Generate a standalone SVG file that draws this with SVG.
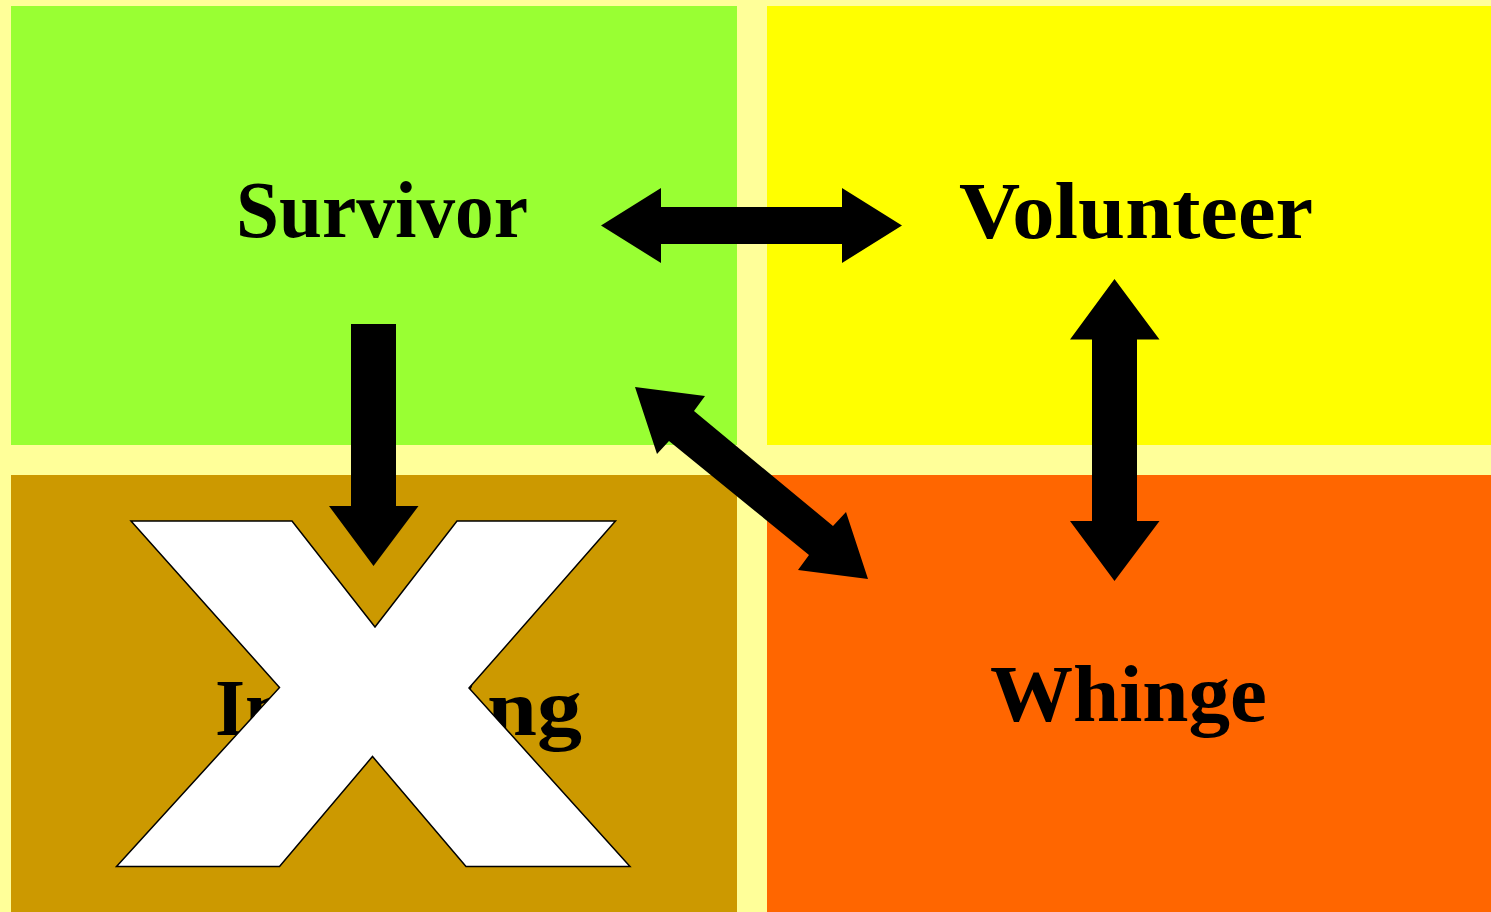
<svg xmlns="http://www.w3.org/2000/svg" width="1491" height="912" viewBox="0 0 1491 912">
<style>
.lbl{font-family:"Liberation Serif","Times New Roman",serif;font-weight:bold;font-size:80px;fill:#000}
.arr{fill:#000;stroke:none}
</style>
<rect x="0" y="0" width="1491" height="912" fill="#FFFF99"/>
<g id="survivor">
<rect x="11" y="6" width="726" height="439" fill="#99FF33"/>
<text class="lbl" x="236" y="237" textLength="292" lengthAdjust="spacingAndGlyphs">Survivor</text>
</g>
<g id="volunteer">
<rect x="767" y="6" width="724" height="439" fill="#FFFF00"/>
<text class="lbl" x="959" y="238" textLength="354" lengthAdjust="spacingAndGlyphs">Volunteer</text>
</g>
<g id="imploding">
<rect x="11" y="475" width="726" height="437" fill="#CC9900"/>
<text class="lbl" y="735"><tspan x="215" textLength="262" lengthAdjust="spacingAndGlyphs">Implodi</tspan><tspan x="487" textLength="95" lengthAdjust="spacingAndGlyphs">ng</tspan></text>
</g>
<g id="whinge">
<rect x="767" y="475" width="724" height="437" fill="#FF6600"/>
<text class="lbl" x="990" y="721" textLength="277" lengthAdjust="spacingAndGlyphs">Whinge</text>
</g>
<g id="connectors">
<polygon class="arr" points="601,225.5 661,188 661,207 842,207 842,188 902,225.5 842,263 842,244 661,244 661,263"/>
<polygon class="arr" points="1114.5,279 1159.5,339.5 1137,339.5 1137,521 1159.5,521 1114.5,581 1070,521 1092,521 1092,339.5 1070,339.5"/>
<polygon class="arr" points="635,387 705,396 694,411 833,526 846,512 868,579 798,570 809,555 669,441 657,454"/>
<polygon class="arr" points="351,324 396,324 396,506 418.5,506 373.5,566 329,506 351,506"/>
</g>
<g id="cross">
<polygon points="131,521 292,521 375,627 457,521 615.5,521 469,688 630,866.5 466,866.5 372.5,756.5 279.5,866.5 116.5,866.5 279.5,687.5" fill="#FFFFFF" stroke="#000" stroke-width="1.5"/>
</g>
</svg>
